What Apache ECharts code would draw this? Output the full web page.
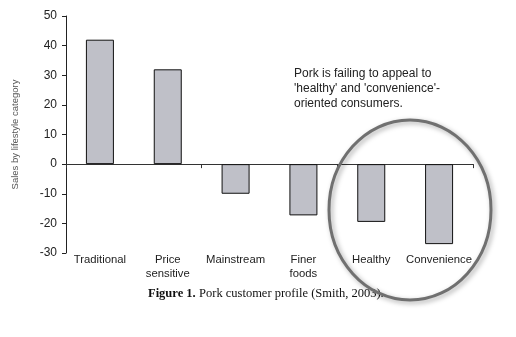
<!DOCTYPE html>
<html>
<head>
<meta charset="utf-8">
<script src="https://cdn.jsdelivr.net/npm/echarts@6/dist/echarts.min.js"></script>
<style>
  html, body { margin: 0; padding: 0; background: #fff; }
  #chart { width: 516px; height: 337px; }
</style>
</head>
<body>
<div id="chart"></div>
<script>
// Lifestyle segments and pork sales index per segment
const categories = ['Traditional', 'Price\nsensitive', 'Mainstream', 'Finer\nfoods', 'Healthy', 'Convenience'];
const salesValues = [42, 32, -10, -17.3, -19.5, -27];
const yTicks = { min: -30, max: 50, interval: 10 };

const chart = echarts.init(document.getElementById('chart'));

const sans = 'Liberation Sans, Arial, sans-serif';
const serif = 'Liberation Serif, Times New Roman, serif';

chart.setOption({
  animation: false,
  backgroundColor: '#ffffff',
  grid: { left: 66, right: 43, top: 16, bottom: 84 },
  xAxis: [
    {
      // zero baseline with the segment dividers
      type: 'category',
      data: categories,
      boundaryGap: true,
      axisLine: { onZero: true, lineStyle: { color: '#333', width: 1.2 } },
      axisTick: { show: true, length: 4, inside: false, lineStyle: { color: '#333' } },
      axisLabel: { show: false },
      splitLine: { show: false }
    },
    {
      // segment names along the bottom
      type: 'category',
      data: categories,
      position: 'bottom',
      axisLine: { show: false, onZero: false },
      axisTick: { show: false },
      axisLabel: {
        show: true,
        color: '#222',
        fontFamily: sans,
        fontSize: 11.3,
        lineHeight: 14,
        margin: 0,
        interval: 0
      }
    }
  ],
  yAxis: {
    type: 'value',
    min: yTicks.min,
    max: yTicks.max,
    interval: yTicks.interval,
    name: 'Sales by lifestyle category',
    nameLocation: 'middle',
    nameRotate: 90,
    nameGap: 46,
    nameTextStyle: { color: '#555', fontFamily: sans, fontSize: 9.5 },
    axisLine: { show: true, lineStyle: { color: '#222', width: 1 } },
    axisTick: { show: true, length: 4, lineStyle: { color: '#222' } },
    axisLabel: { color: '#222', fontFamily: sans, fontSize: 12, margin: 9 },
    splitLine: { show: false }
  },
  series: [{
    type: 'bar',
    xAxisIndex: 0,
    data: salesValues,
    barWidth: 28,
    itemStyle: { color: '#bfc0c8', borderColor: '#111', borderWidth: 1 }
  }],
  graphic: [
    {
      type: 'text',
      left: 294,
      top: 66,
      style: {
        text: "Pork is failing to appeal to\n'healthy' and 'convenience'-\noriented consumers.",
        fill: '#222',
        font: '12px ' + sans,
        lineHeight: 15
      }
    },
    {
      // highlight ring round the two weakest segments
      type: 'ellipse',
      shape: { cx: 410, cy: 210, rx: 81, ry: 90 },
      style: {
        fill: 'none',
        stroke: '#707070',
        lineWidth: 3,
        shadowBlur: 5,
        shadowColor: 'rgba(0,0,0,0.35)',
        shadowOffsetX: 2,
        shadowOffsetY: 2
      },
      z: 10
    },
    {
      type: 'text',
      left: 148,
      top: 287,
      style: {
        rich: {
          b: { font: 'bold 12.5px ' + serif, fill: '#111' },
          n: { font: '12.5px ' + serif, fill: '#111' }
        },
        text: '{b|Figure 1.} {n|Pork customer profile (Smith, 2003).}'
      }
    }
  ]
});
</script>
</body>
</html>
